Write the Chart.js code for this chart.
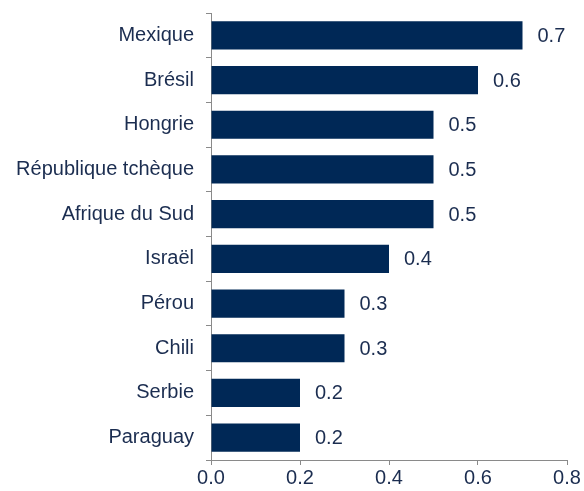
<!DOCTYPE html>
<html>
<head>
<meta charset="utf-8">
<script src="https://cdn.jsdelivr.net/npm/chart.js@4"></script>
<style>
    html, body { margin: 0; padding: 0; background: #fff; }
    #wrap { width: 584px; height: 491px; }
</style>
</head>
<body>
<div id="wrap"><canvas id="chart" width="584" height="491"></canvas></div>
<script>
// Data
const countries = ['Mexique', 'Brésil', 'Hongrie', 'République tchèque', 'Afrique du Sud',
    'Israël', 'Pérou', 'Chili', 'Serbie', 'Paraguay'];
const values = [0.7, 0.6, 0.5, 0.5, 0.5, 0.4, 0.3, 0.3, 0.2, 0.2];
const xTicks = [0, 0.2, 0.4, 0.6, 0.8];

const BAR_COLOR = '#002856';
const TEXT_COLOR = '#1b2d50';
const AXIS_COLOR = '#8a8a8a';
const FONT = { family: '"Liberation Sans", Arial, sans-serif', size: 20 };

// value labels at the end of each bar
const valueLabels = {
    id: 'valueLabels',
    afterDatasetsDraw(chart) {
        const ctx = chart.ctx;
        const meta = chart.getDatasetMeta(0);
        ctx.save();
        ctx.font = `${FONT.size}px ${FONT.family}`;
        ctx.fillStyle = TEXT_COLOR;
        ctx.textAlign = 'left';
        ctx.textBaseline = 'middle';
        meta.data.forEach((bar, i) => {
            ctx.fillText(values[i].toFixed(1), bar.x + 15, bar.y + 1);
        });
        ctx.restore();
    }
};

new Chart(document.getElementById('chart'), {
    type: 'bar',
    data: {
        labels: countries,
        datasets: [{
            data: values,
            backgroundColor: BAR_COLOR,
            borderWidth: 0,
            categoryPercentage: 1,
            barPercentage: 0.63
        }]
    },
    options: {
        indexAxis: 'y',
        responsive: false,
        animation: false,
        layout: { padding: { top: 13, right: 17, bottom: 0, left: 0 } },
        plugins: {
            legend: { display: false },
            tooltip: { enabled: false }
        },
        scales: {
            x: {
                min: 0,
                max: 0.8,
                afterBuildTicks: s => { s.ticks = xTicks.map(v => ({ value: v })); },
                afterFit: s => { s.height = 31; },
                ticks: {
                    color: TEXT_COLOR,
                    font: FONT,
                    padding: 1,
                    callback: v => v.toFixed(1)
                },
                grid: {
                    drawOnChartArea: false,
                    drawTicks: true,
                    tickLength: 5,
                    color: AXIS_COLOR
                },
                border: { color: AXIS_COLOR, width: 1 }
            },
            y: {
                afterFit: s => {
                    s.width = 211;
                    s.paddingTop = 0;
                    s.paddingBottom = 0;
                },
                ticks: {
                    color: TEXT_COLOR,
                    font: FONT,
                    padding: 12
                },
                grid: {
                    offset: true,
                    drawOnChartArea: false,
                    drawTicks: true,
                    tickLength: 5,
                    color: AXIS_COLOR
                },
                border: { color: AXIS_COLOR, width: 1 }
            }
        }
    },
    plugins: [valueLabels]
});
</script>
</body>
</html>
